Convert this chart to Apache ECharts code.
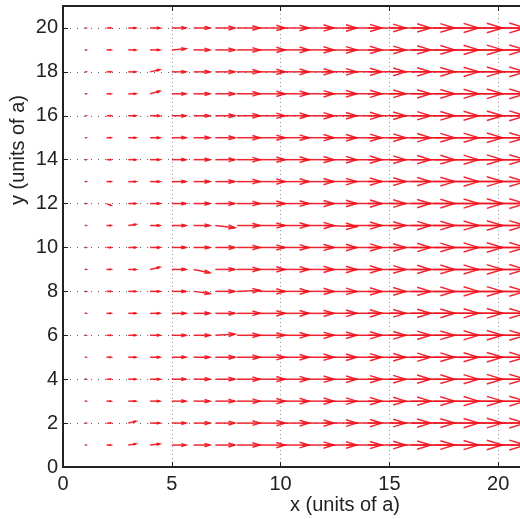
<!DOCTYPE html>
<html>
<head>
<meta charset="utf-8">
<style>html,body{margin:0;padding:0;background:#fff}#c{width:520px;height:519px}</style>
<script src="https://cdn.jsdelivr.net/npm/echarts@6/dist/echarts.min.js"></script>
</head>
<body>
<div id="c"></div>
<script>
// grid columns (x positions) and rows (y positions) of the arrows
const colX = [1,2,3,4,5,6,7,8,9,10,11,12,13,14,15,16,17,18,19,20,21];
const rowY = [1,2,3,4,5,6,7,8,9,10,11,12,13,14,15,16,17,18,19,20];
// horizontal arrow component per column (units of a)
const colU = [0.05,0.2,0.35,0.45,0.65,0.75,0.9,1.05,1.2,1.3,1.45,1.5,1.65,1.75,1.9,2.0,2.1,2.2,2.25,2.3,2.4];
// visible vertical tilts: [x, y, v]
const tilts = [[4,18,0.1],[4,17,0.12],[5,19,0.05],[2,12,-0.08],[3,11,0.05],[7,11,-0.1],[4,9,0.1],[6,9,-0.15],[6,8,-0.1],[8,8,0.05],[3,2,0.08],[4,1,0.05],[3,1,0.05],[7,6,0.05],[12,11,-0.05]];
const xTicks = [0,5,10,15,20];
const yTicks = [0,2,4,6,8,10,12,14,16,18,20];

const tiltMap = {};
tilts.forEach(t => { tiltMap[t[0] + '_' + t[1]] = t[2]; });
const arrows = [];
rowY.forEach(y => {
  colX.forEach((x, i) => {
    const v = tiltMap[x + '_' + y] || 0;
    arrows.push([x, y, colU[i], v]);
  });
});

const chart = echarts.init(document.getElementById('c'));
const FONT = 'Liberation Sans, Arial, Helvetica, sans-serif';
const RED = 'rgba(240,20,30,0.92)';
chart.setOption({
  animation: false,
  grid: { left: 63, top: 6, width: 462, height: 461 },
  xAxis: [{
    type: 'value', min: 0, max: 21, interval: 5,
    axisLine: { show: true, lineStyle: { color: '#222', width: 2 } },
    axisTick: { show: true, inside: true, length: 5, lineStyle: { color: '#222', width: 1 } },
    axisLabel: { color: '#222', fontSize: 20, fontFamily: FONT, margin: 7,
      formatter: v => xTicks.indexOf(v) >= 0 ? String(v) : '' , showMaxLabel: false },
    splitLine: { show: true, lineStyle: { color: '#999', type: [1, 3], width: 1 } }
  }, {
    type: 'value', min: 0, max: 21, interval: 5, position: 'top',
    axisLine: { show: true, onZero: false, lineStyle: { color: '#222', width: 2 } },
    axisTick: { show: true, inside: true, length: 5, lineStyle: { color: '#222', width: 1 } },
    axisLabel: { show: false }, splitLine: { show: false }
  }],
  yAxis: [{
    type: 'value', min: 0, max: 21, interval: 2,
    axisLine: { show: true, lineStyle: { color: '#222', width: 2 } },
    axisTick: { show: true, inside: true, length: 5, lineStyle: { color: '#222', width: 1 } },
    axisLabel: { color: '#222', fontSize: 20, fontFamily: FONT, margin: 5,
      formatter: v => yTicks.indexOf(v) >= 0 ? String(v) : '', showMaxLabel: false },
    splitLine: { show: true, lineStyle: { color: '#666', type: [1, 6], width: 1 } }
  }],
  graphic: [
    { type: 'text', x: 345, y: 495, style: { text: 'x (units of a)', font: '20px ' + FONT, fill: '#222', align: 'center', verticalAlign: 'top' } },
    { type: 'text', x: 8, y: 150, rotation: Math.PI / 2, style: { text: 'y (units of a)', font: '20px ' + FONT, fill: '#222', align: 'center', verticalAlign: 'top' } }
  ],
  series: [{
    type: 'custom',
    clip: false,
    data: arrows,
    encode: { x: 0, y: 1 },
    renderItem: function (params, api) {
      const x = api.value(0), y = api.value(1), u = api.value(2), v = api.value(3);
      const p0 = api.coord([x, y]);
      const p1 = api.coord([x + u, y + v]);
      const dx = p1[0] - p0[0], dy = p1[1] - p0[1];
      const a = 0.33, b = 0.1;
      const h1 = [p1[0] - a * dx - b * dy, p1[1] - a * dy + b * dx];
      const h2 = [p1[0] - a * dx + b * dy, p1[1] - a * dy - b * dx];
      const st = { stroke: RED, lineWidth: 1.5, fill: null };
      return {
        type: 'group',
        children: [
          { type: 'line', shape: { x1: p0[0], y1: p0[1], x2: p1[0], y2: p1[1] }, style: st },
          { type: 'polyline', shape: { points: [h1, p1, h2] }, style: st }
        ]
      };
    }
  }]
});
</script>
</body>
</html>
